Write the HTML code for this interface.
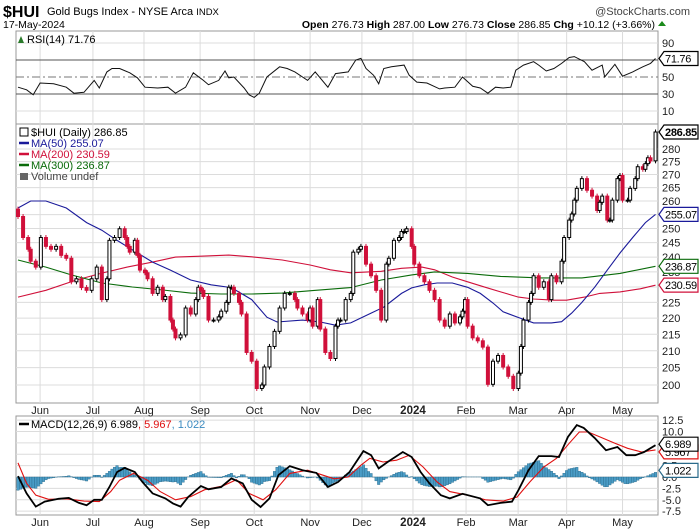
<!DOCTYPE html>
<html><head><meta charset="utf-8"><style>
body{margin:0;background:#fff;width:700px;height:530px;overflow:hidden;font-family:"Liberation Sans",sans-serif}
svg{display:block}
text{font-family:"Liberation Sans",sans-serif}
</style></head><body>
<svg id="chart" width="700" height="530" viewBox="0 0 700 530" xmlns="http://www.w3.org/2000/svg">
<g>
<text x="3" y="17" font-size="16" font-weight="bold">$HUI</text>
<text x="47" y="15" font-size="11">Gold Bugs Index - NYSE Arca <tspan font-size="9.5">INDX</tspan></text>
<text x="690" y="15" font-size="11" text-anchor="end" fill="#444">@StockCharts.com</text>
<text x="3" y="28" font-size="10.5">17-May-2024</text>
<text x="655" y="28" font-size="10.5" text-anchor="end"><tspan font-weight="bold">Open</tspan> 276.73 <tspan font-weight="bold">High</tspan> 287.00 <tspan font-weight="bold">Low</tspan> 276.73 <tspan font-weight="bold">Close</tspan> 286.85 <tspan font-weight="bold">Chg</tspan> +10.12 (+3.66%)</text>
<polygon points="658,26 666,26 662,21" fill="#1a8a1a"/>
</g>
<g id="grid"></g>
<g id="marks"></g>
<g id="labels"></g>
</svg>
<script>
// ---- data ----
const monthNames=["Jun","Jul","Aug","Sep","Oct","Nov","Dec","2024","Feb","Mar","Apr","May"];
const monthDays=[8.7,29.5,49.6,71.7,93,115,135.4,155.5,176.4,196.9,216,238];
const priceTicks=[200,205,210,215,220,225,230,235,240,245,250,255,260,265,270,275,280];
const rsiTicks=[90,70,50,30,10];
const macdTicks=[12.5,10,7.5,5,2.5,0,-2.5,-5,-7.5];
const macdTickLabels=["12.5","10.0","7.5","5.0","2.5","0.0","-2.5","-5.0","-7.5"];

const candleDays=[0,2,4,5,7,9,11,13,15,17,19,21,23,25,27,29,31,33,35,36,38,40,42,43,44,46,47,48,50,51,53,55,57,58,60,61,62,64,66,68,70,71,72,73,75,77,79,80,82,83,84,85,87,88,90,92,94,96,97,99,101,103,105,107,109,110,112,114,115,116,118,119,121,123,125,126,127,129,131,132,134,135,137,139,141,143,145,146,148,150,151,152,153,155,156,158,160,162,164,166,168,170,172,174,175,176,177,179,181,183,185,187,189,191,193,195,197,198,199,201,202,203,205,207,209,210,212,214,215,217,218,219,220,222,224,226,228,229,230,232,233,234,236,237,238,240,241,243,244,246,247,248,249,251];
const closes=[254.3,246.8,242.7,238.6,236.6,246.8,243.7,242.7,243.7,240.6,239.6,231.7,232.7,229.8,228.9,232.7,236.6,225.9,232.7,245.8,246.8,249.9,246.8,243.7,241.7,245.8,240.6,235.6,234.7,232.7,227.9,229.9,225.9,226.9,219.4,216.6,213.9,214.8,223.2,221.3,225.9,229.9,228.9,226.9,219.4,219.4,220.4,222.2,225,229.9,229.9,227.9,225,221.3,209.5,206.9,199,200,205.2,211.3,215.9,223.2,227.9,227.9,225.9,223.2,221.3,219.4,223.2,217.5,225.9,216.6,209.5,207.7,217.5,219.4,219.4,225.9,227.9,241.7,242.7,243.7,237.6,233.7,228.9,219.4,237.6,239.6,245.8,246.8,248.9,248.9,249.9,243.7,237.6,233.7,231.7,228.9,225.9,219.4,217.5,221.3,218.5,220.4,222.2,225.9,217.5,213.9,213,211.1,200.2,206.9,208.6,205.2,202.5,199,203.4,211.3,219.4,225,227.9,233.7,229.9,231.7,225.9,233.7,231.7,238.6,246.8,253,255.2,260.3,264.7,268.4,264,261.8,256.5,259.5,261.8,253,253,260.3,268.4,269.6,260.3,260.3,264.7,268.4,273,272,274.2,276.5,275.3,286.85];
const firstOpen=257;

const ma50Days=[0,5,11,19,27,33,39,45,53,60,68,76,84,92,98,102,112,119,125,131,139,144,151,155,160,165,171,177,182,187,191,197,203,210,214,218,222,227,232,237,242,247,251];
const ma50Vals=[257.4,260,260,257.4,252.1,249.4,245.8,242.5,238.3,235.6,232.3,230.7,229.8,225.9,220.3,218.8,219.4,218.8,217.8,218.5,221.6,223.5,227.9,229.7,230.7,231.3,231.3,229.9,227.9,224.8,222,220.2,218.5,218.5,218.9,221.6,225,229.9,235.6,241.4,246.8,252.1,255.07];
const ma200Days=[0,11,23,33,43,53,62,72,83,92,104,115,123,131,143,151,159,164,171,177,184,190,197,203,211,216,223,229,237,245,251];
const ma200Vals=[226.7,228.9,232.3,234.6,236.6,238.3,240,240.3,240.7,240.1,239,237.3,235.7,234.7,235.2,236.2,236.6,235.7,233.3,231.7,229.9,228.4,226.7,226.1,225.7,225.7,226.7,227.9,228.4,229.4,230.59];
const ma300Days=[0,11,21,33,45,57,68,80,92,104,116,131,143,155,164,177,190,206,222,237,251];
const ma300Vals=[239,236.6,234,231.3,230,229,228,227.7,227.7,228,228.8,229.8,232.3,234,235,234.5,233.5,233,233,234.5,236.87];

const rsiDays=[0,3.4,6,8.7,14,19,22,26,30,32,35,37,40,44,47,50,55,59,62,66,69,73,75,79,81.5,83,85,89,91,93,95,98,103,106,109,114,117,122,125,130,133,135,137,140,142,144,147,152,154,157,161,166,168,172,175,179,182,185,188,191,194,196,199,203,205,208,211,214,217,219,223,226,230,231,235,238,242,246,249,251];
const rsiVals=[38,35,29,43,42,38,31,32,46,37,56,60,60,55,49,38,37,38,31,38,55,46,41,46,57,49,50,37,29,26,31,50,62,60,56,46,56,38,54,56,70,72,60,52,42,60,62,64,52,44,43,36,37,38,50,39,37,31,38,37,38,58,64,68,64,57,60,66,73,74,68,58,64,50,65,51,56,62,66,71.76];

const macdDays=[0,3.4,7,10.5,16,20,24,27,30,33,36,39,42,46,49,53,58,61,64,67,72,75,80,84,88.5,92,95.5,99,102.5,107,112,117.5,122,126,130.5,136,139,142,145.5,151.5,155,158.5,162,166.5,170,175,182,185,190,194.5,197,201,205,210,213,216.5,220,222.7,227,231.5,236,239.5,243,246.5,251];
const macdVals=[0.2,-3.6,-6.5,-5.4,-4.8,-4.6,-5.7,-6.2,-5,-5,-2.2,1.1,2,1.1,-1.1,-3.6,-4.7,-5.8,-6.5,-4.4,-2,-2.7,-2.2,-0.3,-1.4,-5,-6.6,-4.7,0.4,2.4,1.5,0.9,-2.2,-1.1,1.1,5.7,4.8,1.9,3.3,5.5,4.4,1.1,-1.4,-4,-4.7,-3.7,-4.7,-6.2,-5.7,-5.4,-2.9,1.5,4.6,4.6,4.4,8.8,11.4,10.8,8.6,5.9,6.6,4.8,4.8,5.5,6.989];
const sigDays=[0,3.4,7,12,19,26,32,36.5,40,45.5,51,56,62,68,73.5,80.5,86,91,96.5,101.5,107,114,119,124.5,130,135,138.5,143.7,149,154,159.5,165,170,177,184,191,196.5,201.5,207,212,217,221,224.5,230,235,240,245.5,251];
const sigVals=[3.1,-1.4,-4,-4.9,-4.8,-5.3,-5.4,-3.2,-0.7,0.8,-0.7,-3.2,-5,-4.3,-2.8,-2,-0.6,-3.6,-5,-2.8,0.8,1.5,0.6,-0.4,0,2.6,4.1,3.3,3.7,4.8,2.2,-1.1,-3.2,-4,-5,-5.3,-4.4,-1.1,2.2,4.1,7.4,9.9,9.9,8.6,7.4,6.3,5.5,5.967];

// ---- scales ----
const L=16,R=658;
const xS=d=>18+d*2.54;
const yP=p=>385-701.5*Math.log(p/200);
const yR=v=>77-(v-50)*0.85;
const yM=v=>477-v*4.55;
const NS="http://www.w3.org/2000/svg";
function mk(tag,attrs,parent){const e=document.createElementNS(NS,tag);for(const k in attrs)e.setAttribute(k,attrs[k]);parent.appendChild(e);return e;}
const grid=document.getElementById('grid'),marks=document.getElementById('marks'),labels=document.getElementById('labels');

const panels=[[31,124,'rsi-panel'],[124,403,'price-panel'],[416,515,'macd-panel']];
panels.forEach(p=>{
  const r=mk('rect',{x:L,y:p[0],width:R-L,height:p[1]-p[0],fill:'#fff',stroke:'#999','stroke-width':1},grid);
  
  
});
monthDays.forEach((d,i)=>{
  const x=xS(d);
  panels.forEach(p=>{const l=mk('line',{x1:x,x2:x,y1:p[0],y2:p[1],stroke:'#dcdcdc'},grid);
    
    });
  [410,522].forEach(y=>{
    const t=mk('text',{x:x,y:y+4,'font-size':i==7?11.5:11,'font-weight':i==7?'bold':'normal','text-anchor':'middle',fill:'#222'},labels);
    t.textContent=monthNames[i];
    
    
  });
});
priceTicks.forEach(p=>{
  const y=yP(p);
  const l=mk('line',{x1:L,x2:R,y1:y,y2:y,stroke:'#dcdcdc'},grid);
  
  
  const t=mk('text',{x:662,y:y+4,'font-size':11,fill:'#222'},labels);
  t.textContent=p;
  
  
});
rsiTicks.forEach(v=>{
  const y=yR(v);
  const main=(v==70||v==30);
  const l=mk('line',{x1:L,x2:R,y1:y,y2:y,stroke:main?'#555':(v==50?'#777':'#dcdcdc'),'stroke-dasharray':v==50?'8,3,2,3':'none'},grid);
  
  
  if(v!=70){const t=mk('text',{x:662,y:y+4,'font-size':11,fill:'#222'},labels);
  t.textContent=v;
  
  }
});
macdTicks.forEach((v,i)=>{
  const y=yM(v);
  const l=mk('line',{x1:L,x2:R,y1:y,y2:y,stroke:'#dcdcdc'},grid);
  
  
  const t=mk('text',{x:662,y:y+4,'font-size':11,fill:'#222'},labels);
  t.textContent=macdTickLabels[i];
  
  
});

function pathFrom(days,vals,yf){return days.map((d,i)=>(i?'L':'M')+xS(d).toFixed(1)+','+yf(vals[i]).toFixed(1)).join('');}
function interp(days,vals,d){if(d<=days[0])return vals[0];for(let i=1;i<days.length;i++){if(d<=days[i]){const t=(d-days[i-1])/(days[i]-days[i-1]);return vals[i-1]+t*(vals[i]-vals[i-1]);}}return vals[vals.length-1];}

const rsiLine=mk('path',{d:pathFrom(rsiDays,rsiVals,yR),fill:'none',stroke:'#111','stroke-width':1},marks);



[[ma200Days,ma200Vals,'#d0103a','ma200-line'],[ma300Days,ma300Vals,'#0a6b0a','ma300-line'],[ma50Days,ma50Vals,'#1a1a9a','ma50-line']].forEach(m=>{
  const e=mk('path',{d:pathFrom(m[0],m[1],yP),fill:'none',stroke:m[2],'stroke-width':1.1},marks);
  
  
});
closes.forEach((c,i)=>{
  const o=i?closes[i-1]:firstOpen;
  const x=xS(candleDays[i]);
  const up=c>=o;
  const y1=yP(Math.max(o,c)),y2=yP(Math.min(o,c));
  const w=mk('line',{x1:x,x2:x,y1:y1-2.5,y2:y2+2.5,stroke:up?'#000':'#d0103a','stroke-width':1},marks);
  
  
  const b=mk('rect',{x:x-1.5,y:y1,width:3,height:Math.max(1,y2-y1),fill:up?'#fff':'#d0103a',stroke:up?'#000':'#d0103a','stroke-width':1},marks);
  
  
});
for(let d=0;d<=251;d++){
  const h=interp(macdDays,macdVals,d)-interp(sigDays,sigVals,d);
  const y0=yM(0),y1=yM(h);
  const b=mk('rect',{x:xS(d)-1.27,y:Math.min(y0,y1),width:2.54,height:Math.abs(y1-y0),fill:'#4a9cc6',stroke:'#2a6a8a','stroke-width':0.4},marks);
  
  
}
const sigLine=mk('path',{d:pathFrom(sigDays,sigVals,yM),fill:'none',stroke:'#e01010','stroke-width':1.1},marks);


const macdLine=mk('path',{d:pathFrom(macdDays,macdVals,yM),fill:'none',stroke:'#000','stroke-width':1.8},marks);



function tag(y,txt,col,name){
  const g=mk('g',{},labels);
  
  
  mk('polygon',{points:`659,${y} 664,${y-7} 698,${y-7} 698,${y+7} 664,${y+7}`,fill:'#fff',stroke:col,'stroke-width':1.2},g);
  const t=mk('text',{x:665,y:y+4,'font-size':11,'letter-spacing':'-0.3',fill:'#000','font-weight':txt=='286.85'?'bold':'normal'},g);
  t.textContent=txt;
}
tag(yR(71.76),'71.76','#000','rsi-value-tag');
tag(yP(286.85),'286.85','#000','price-value-tag');
tag(yP(255.07),'255.07','#1a1a9a','ma50-value-tag');
tag(yP(236.87),'236.87','#0a6b0a','ma300-value-tag');
tag(yP(230.59),'230.59','#d0103a','ma200-value-tag');
tag(yM(5.967)+2,'5.967','#e01010','signal-value-tag');
tag(yM(6.989)-1,'6.989','#000','macd-value-tag');
tag(yM(1.022)-2,'1.022','#2a6a8a','histogram-value-tag');

function legend(x,y,txt,col,name,sw){
  const g=mk('g',{},labels);
  
  
  if(sw)mk('line',{x1:x-12,x2:x-2,y1:y-4,y2:y-4,stroke:col,'stroke-width':2.5},g);
  const t=mk('text',{x:x,y:y,'font-size':11,fill:col},g);
  t.textContent=txt;
  return t;
}
legend(27,43,'RSI(14) 71.76','#000','rsi-legend',false);
mk('polygon',{points:'18,43 21,36 24,43',fill:'#2a7a2a'},labels);
legend(31,136,'$HUI (Daily) 286.85','#000','price-legend',false);
mk('rect',{x:20,y:128,width:8,height:8,fill:'none',stroke:'#000'},labels);
legend(31,147,'MA(50) 255.07','#1a1a9a','ma50-legend',true);
legend(31,158,'MA(200) 230.59','#d0103a','ma200-legend',true);
legend(31,169,'MA(300) 236.87','#0a6b0a','ma300-legend',true);
legend(31,180,'Volume undef','#444','volume-legend',false);
mk('rect',{x:20,y:173,width:8,height:7,fill:'#666'},labels);
const ml=legend(31,428,'','#000','macd-legend',true);
ml.innerHTML='MACD(12,26,9) 6.989<tspan fill="#e01010">, 5.967</tspan><tspan fill="#3a8ac0">, 1.022</tspan>';
</script>
</body></html>
